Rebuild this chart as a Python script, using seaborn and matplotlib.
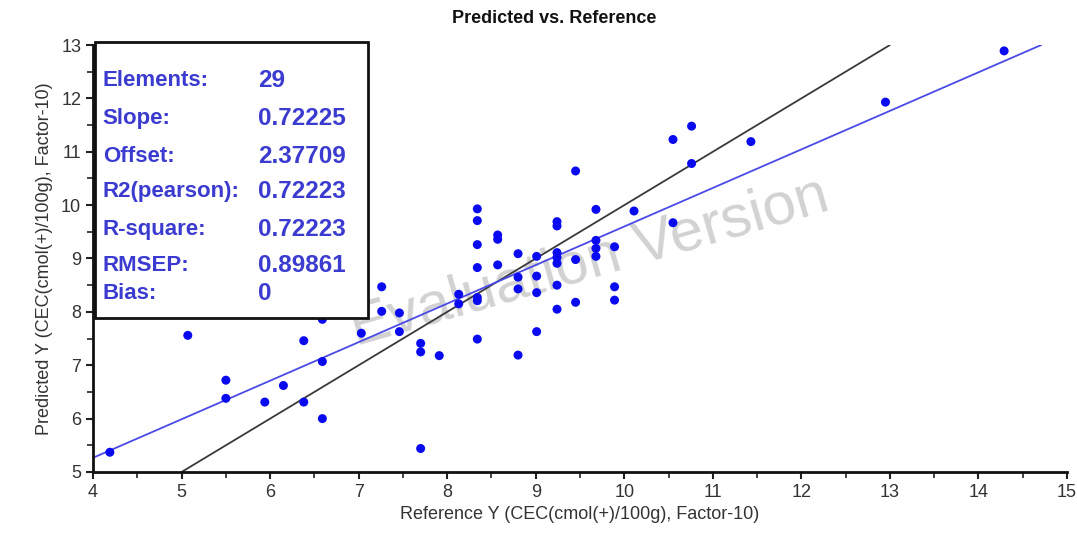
import matplotlib
matplotlib.use("Agg")
import matplotlib.pyplot as plt
import seaborn as sns
import pandas as pd
import numpy as np
from matplotlib.patches import Rectangle
from matplotlib.ticker import MultipleLocator

sns.set_theme(style="white")
plt.rcParams['font.family'] = ['Liberation Sans', 'DejaVu Sans']

# ---- data ----
reference = [4.19, 5.07, 5.50, 5.50, 5.94, 6.15, 6.38, 6.38, 6.59, 6.59, 6.59,
             7.03, 7.26, 7.26, 7.46, 7.46, 7.70, 7.70, 7.70, 7.91, 8.13, 8.13,
             8.34, 8.34, 8.34, 8.34, 8.34, 8.34, 8.34, 8.57, 8.57, 8.57,
             8.80, 8.80, 8.80, 8.80, 9.01, 9.01, 9.01, 9.01,
             9.24, 9.24, 9.24, 9.24, 9.24, 9.24, 9.24, 9.45, 9.45, 9.45,
             9.68, 9.68, 9.68, 9.68, 9.89, 9.89, 9.89, 10.11, 10.55, 10.55,
             10.76, 10.76, 11.43, 12.95, 14.29]
predicted = [5.37, 7.56, 6.72, 6.38, 6.31, 6.62, 7.46, 6.31, 7.86, 7.07, 6.00,
             7.60, 8.47, 8.01, 7.98, 7.63, 7.41, 7.25, 5.44, 7.18, 8.33, 8.15,
             9.93, 9.71, 9.26, 8.83, 8.27, 8.21, 7.49, 9.44, 9.36, 8.88,
             9.09, 8.65, 8.43, 7.19, 9.04, 8.67, 8.36, 7.63,
             9.69, 9.61, 9.11, 9.02, 8.91, 8.50, 8.05, 10.64, 8.98, 8.18,
             9.92, 9.34, 9.19, 9.04, 9.22, 8.47, 8.22, 9.89, 11.23, 9.67,
             11.48, 10.78, 11.19, 11.93, 12.89]

slope = 0.72225
offset = 2.37709
fit_x = [4.0, 14.71]
target_x = [5.0, 13.0]

stat_labels = ["Elements:", "Slope:", "Offset:", "R2(pearson):", "R-square:", "RMSEP:", "Bias:"]
stat_values = ["29", "0.72225", "2.37709", "0.72223", "0.72223", "0.89861", "0"]

x_ticks = list(range(4, 16))
y_ticks = list(range(5, 14))

df = pd.DataFrame({"Reference": reference, "Predicted": predicted})
fit_df = pd.DataFrame({"x": fit_x, "y": [slope * v + offset for v in fit_x]})
target_df = pd.DataFrame({"x": target_x, "y": target_x})

fig = plt.figure(figsize=(10.77, 5.53), dpi=100)
ax = fig.add_axes([0.0864, 0.1465, 0.9043, 0.7721])

# watermark
ax.text(0.51, 0.49, "Evaluation Version", transform=ax.transAxes, fontsize=43,
        color="#d2d2d2", rotation=16, ha="center", va="center", zorder=0)

sns.lineplot(data=target_df, x="x", y="y", color="#3a3a3a", linewidth=1.3, ax=ax, zorder=2)
sns.lineplot(data=fit_df, x="x", y="y", color="#4a4ae6", linewidth=1.3, ax=ax, zorder=2)
sns.scatterplot(data=df, x="Reference", y="Predicted", color="#0a0af0", s=42,
                edgecolor="none", ax=ax, zorder=3)

ax.set_xlim(4, 15)
ax.set_ylim(5, 13)
ax.set_xticks(x_ticks)
ax.set_yticks(y_ticks)
ax.xaxis.set_minor_locator(MultipleLocator(0.5))
ax.yaxis.set_minor_locator(MultipleLocator(0.5))
ax.tick_params(axis="both", which="major", direction="out", length=5, width=1.5,
               colors="#222222", labelsize=13, labelcolor="#333333", bottom=True, left=True)
ax.tick_params(axis="both", which="minor", direction="out", length=4, width=1.2,
               colors="#222222", bottom=True, left=True)
for s in ["top", "right"]:
    ax.spines[s].set_visible(False)
for s in ["left", "bottom"]:
    ax.spines[s].set_color("#111111")
    ax.spines[s].set_linewidth(2)

ax.set_xlabel("Reference Y (CEC(cmol(+)/100g), Factor-10)", fontsize=13, color="#333333", labelpad=4)
ax.set_ylabel("Predicted Y (CEC(cmol(+)/100g), Factor-10)", fontsize=13, color="#333333", labelpad=6)

fig.text(0.515, 0.967, "Predicted vs. Reference", ha="center", va="center",
         fontsize=13, fontweight="bold", color="#111111")

# statistics box
box = Rectangle((0.002, 0.361), 0.280, 0.646, transform=ax.transAxes, facecolor="white",
                edgecolor="#111111", linewidth=2, zorder=5, clip_on=False)
ax.add_patch(box)
row_y = [0.917, 0.828, 0.739, 0.657, 0.568, 0.483, 0.418]
for lab, val, yy in zip(stat_labels, stat_values, row_y):
    ax.text(0.010, yy, lab, transform=ax.transAxes, fontsize=16, fontweight="bold",
            color="#3b3bd0", ha="left", va="center", zorder=6)
    ax.text(0.169, yy, val, transform=ax.transAxes, fontsize=17.5, fontweight="bold",
            color="#3b3bd0", ha="left", va="center", zorder=6)

fig.savefig("out.png", dpi=100)
